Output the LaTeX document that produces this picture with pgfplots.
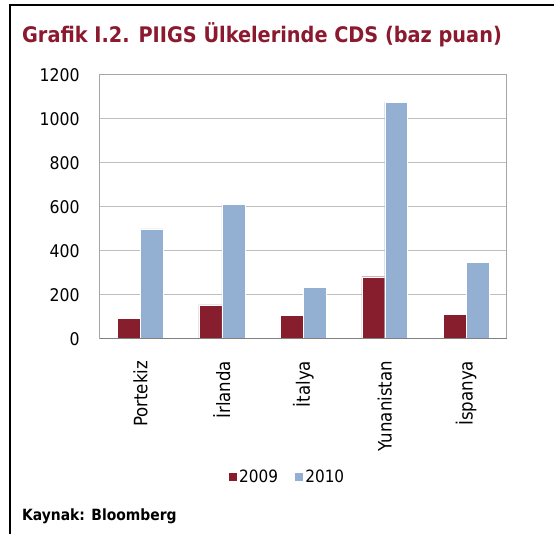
\documentclass[border=0pt]{standalone}
\usepackage{fontspec}
\setmainfont{DejaVu Sans Condensed}
\usepackage{pgfplots}
\pgfplotsset{compat=1.18}
\definecolor{maroon}{RGB}{134,30,46}
\definecolor{titlered}{RGB}{139,26,47}
\definecolor{lblue}{RGB}{147,176,211}
\definecolor{gridgray}{RGB}{191,191,191}
\definecolor{sidegray}{RGB}{166,166,166}
\definecolor{botgray}{RGB}{128,128,128}
\begin{document}
\begin{tikzpicture}
\path (0bp,0bp) rectangle (555bp,535bp);
\draw[line width=2.5bp, black] (10bp,0bp) -- (10bp,530bp) -- (555bp,530bp);
\node[anchor=base west, inner sep=0pt, text=titlered, font=\fontsize{21.5bp}{21.5bp}\selectfont\bfseries] at (22bp,492bp) {Grafik I.2. PIIGS Ülkelerinde CDS (baz puan)};
\node[anchor=base west, inner sep=0pt, font=\fontsize{15.5bp}{15.5bp}\selectfont\bfseries] at (22bp,13bp) {Kaynak: Bloomberg};
\begin{axis}[
  at={(100bp,195.5bp)}, anchor=south west,
  width=408bp, height=264.5bp, scale only axis,
  ymin=0, ymax=1200, ytick={0,200,...,1200},
  xmin=-0.5, xmax=4.5, xtick={0,1,2,3,4},
  xticklabels={Portekiz,İrlanda,İtalya,Yunanistan,İspanya},
  /pgf/number format/assume math mode=true,
  /pgf/number format/1000 sep={},
  y tick label style={anchor=east, inner sep=0pt, font=\fontsize{17.5bp}{17.5bp}\selectfont},
  x tick label style={rotate=90, anchor=east, inner sep=0pt, font=\fontsize{18.5bp}{18.5bp}\selectfont},
  xticklabel shift=22bp, yticklabel shift=20bp,
  major tick length=0pt,
  ybar=0pt, bar width=23bp,
  ymajorgrids, grid style={gridgray, line width=1.2bp},
  axis line style={sidegray, line width=1.2bp},
  legend style={at={(0.46,-0.524)}, anchor=center, draw=none, legend columns=2,
    font=\fontsize{17bp}{17bp}\selectfont,
    /tikz/every even column/.append style={column sep=14bp}},
  legend image code/.code={\fill[#1] (0bp,-4.5bp) rectangle (9bp,4.5bp);},
]
\addplot[fill=maroon, draw=white, line width=0.4bp] coordinates {(0,92) (1,154) (2,107) (3,282) (4,110)};
\addplot[fill=lblue, draw=white, line width=0.4bp] coordinates {(0,500) (1,611) (2,235) (3,1075) (4,346)};
\legend{2009,2010}
\draw[botgray, line width=2.2bp] (rel axis cs:0,0) -- (rel axis cs:1,0);
\end{axis}
\end{tikzpicture}
\end{document}
